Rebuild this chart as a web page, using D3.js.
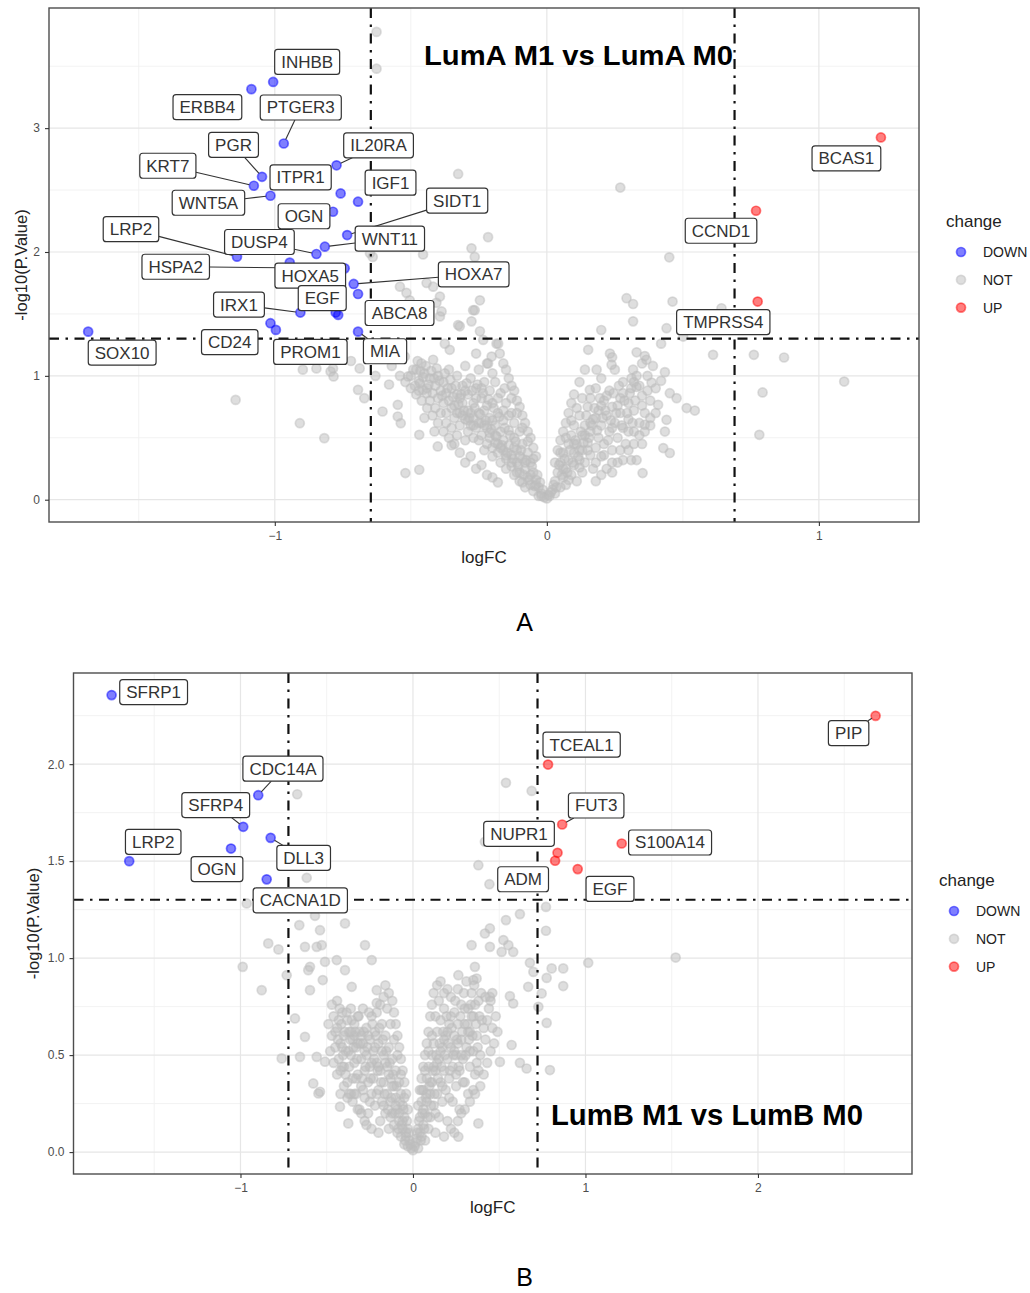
<!DOCTYPE html>
<html><head><meta charset="utf-8">
<script src="https://cdn.jsdelivr.net/npm/d3@7"></script>
<style>body{margin:0;background:#fff}svg{display:block}text{font-family:"Liberation Sans",Arial,sans-serif}</style>
</head><body>
<svg id="c" width="1030" height="1293"></svg>
<script>
// ================= DATA: Panel A (LumA M1 vs LumA M0) =================
const downGenesA = ["INHBB","ERBB4","PTGER3","PGR","KRT7","ITPR1","WNT5A","IL20RA","IGF1","OGN","SIDT1","LRP2","DUSP4","WNT11","HSPA2","HOXA5","HOXA7","EGF","IRX1","ABCA8","CD24","PROM1","MIA","SOX10",null];
const downLfcA  = [-1.006,-1.086,-0.967,-1.047,-1.077,-0.758,-1.016,-0.773,-0.694,-0.786,-0.734,-1.139,-0.847,-0.816,-0.743,-0.945,-0.710,-0.776,-0.906,-0.694,-1.016,-0.996,-0.694,-1.686,-0.767];
const downLogPA = [3.373,3.315,2.876,2.607,2.535,2.473,2.454,2.700,2.406,2.325,2.137,1.962,1.984,2.043,1.868,1.914,1.742,1.511,1.511,1.661,1.425,1.371,1.357,1.357,1.492];
const upGenesA = ["BCAS1","CCND1","TMPRSS4"];
const upLfcA   = [1.228,0.769,0.775];
const upLogPA  = [2.925,2.333,1.600];
const notA = [
[0,0.01],[-0.01,0.02],[0.005,0.04],[-0.02,0.05],[-0.03,0.03],[-0.03,0.1],[-0.04,0.16],[-0.05,0.07],[-0.05,0.22],[-0.06,0.12],[-0.06,0.3],[-0.07,0.18],[-0.07,0.38],[-0.08,0.1],[-0.08,0.25],[-0.09,0.33],[-0.09,0.45],[-0.10,0.15],[-0.10,0.22],[-0.10,0.55],[-0.11,0.3],[-0.11,0.4],[-0.12,0.2],[-0.12,0.5],[-0.12,0.62],[-0.13,0.27],[-0.13,0.36],[-0.13,0.7],[-0.14,0.44],[-0.14,0.56],[-0.15,0.25],[-0.15,0.33],[-0.15,0.78],[-0.16,0.4],[-0.16,0.48],[-0.16,0.64],[-0.17,0.3],[-0.17,0.55],[-0.17,0.86],[-0.18,0.38],[-0.18,0.45],[-0.18,0.7],[-0.19,0.52],[-0.19,0.6],[-0.19,0.95],[-0.2,0.35],[-0.2,0.42],[-0.2,0.78],[-0.2,1.02],[-0.21,0.5],[-0.21,0.66],[-0.21,0.88],[-0.22,0.45],[-0.22,0.58],[-0.22,1.1],[-0.23,0.4],[-0.23,0.72],[-0.23,0.95],[-0.24,0.52],[-0.24,0.62],[-0.24,0.82],[-0.25,0.48],[-0.25,1.05],[-0.25,0.7],[-0.26,0.58],[-0.26,0.9],[-0.26,1.18],[-0.27,0.5],[-0.27,0.66],[-0.27,0.78],[-0.28,0.6],[-0.28,0.98],[-0.29,0.55],[-0.29,0.72],[-0.29,0.85],[-0.3,0.65],[-0.3,1.08],[-0.3,0.48],[-0.31,0.78],[-0.31,0.92],[-0.32,0.6],[-0.32,0.7],[-0.33,0.85],[-0.33,1.0],[-0.34,0.66],[-0.34,0.76],[-0.35,0.9],[-0.35,0.58],[-0.36,0.8],[-0.36,1.05],[-0.37,0.7],[-0.37,0.86],[-0.38,0.95],[-0.38,0.78],[-0.39,0.88],[-0.4,0.82],[-0.4,1.0],[-0.41,0.92],[-0.42,0.86],[-0.43,0.98],[-0.44,0.9],[-0.45,1.02],[-0.47,0.96],[-0.48,1.05],[-0.5,1.0],
[-0.015,0.08],[-0.025,0.14],[-0.035,0.2],[-0.045,0.11],[-0.055,0.27],[-0.065,0.16],[-0.075,0.32],[-0.085,0.2],[-0.095,0.4],[-0.105,0.27],[-0.115,0.47],[-0.125,0.33],[-0.135,0.52],[-0.145,0.38],[-0.155,0.58],[-0.165,0.44],[-0.175,0.67],[-0.185,0.51],[-0.195,0.74],[-0.205,0.57],[-0.215,0.81],[-0.225,0.64],[-0.235,0.86],[-0.245,0.69],[-0.255,0.93],[-0.265,0.74],[-0.275,0.88],[-0.285,0.66],[-0.295,0.94],[-0.305,0.72],[-0.315,0.85],[-0.325,0.77],[-0.335,0.92],[-0.345,0.83],[-0.355,0.97],[-0.365,0.9],[-0.375,1.02],[-0.385,0.84],[-0.395,0.96],[-0.405,1.06],[-0.415,0.98],[-0.425,1.04],[-0.435,0.93],[-0.445,1.08],[-0.455,0.99],[-0.465,1.04],[-0.475,1.12],[-0.485,0.92],
[-0.14,0.68],[-0.18,0.82],[-0.22,0.76],[-0.26,0.82],[-0.3,0.88],[-0.2,0.64],[-0.16,0.72],[-0.24,0.9],[-0.28,0.7],[-0.32,0.82],[-0.12,0.42],[-0.1,0.35],[-0.08,0.3],[-0.06,0.2],[-0.04,0.12],[-0.02,0.03],[-0.09,0.14],[-0.11,0.22],[-0.13,0.3],[-0.15,0.36],[-0.17,0.42],[-0.19,0.46],[-0.21,0.54],[-0.23,0.6],[-0.25,0.62],[-0.27,0.6],[-0.29,0.64],[-0.31,0.68],[-0.33,0.7],[-0.35,0.74],
[-0.04,0.35],[-0.05,0.42],[-0.06,0.5],[-0.07,0.55],[-0.08,0.62],[-0.09,0.68],[-0.1,0.75],[-0.11,0.8],[-0.12,0.88],[-0.13,0.92],[-0.14,0.98],[-0.15,1.05],[-0.16,1.1],[-0.05,0.33],[-0.07,0.47],[-0.09,0.58],[-0.11,0.7],[-0.13,0.82],[-0.155,0.9],
[-0.3,0.3],[-0.32,0.38],[-0.34,0.45],[-0.36,0.5],[-0.38,0.55],[-0.4,0.62],[-0.42,0.68],[-0.44,0.74],[-0.46,0.8],[-0.48,0.85],[-0.5,0.9],[-0.26,0.25],[-0.28,0.35],[-0.33,0.52],[-0.37,0.62],[-0.41,0.74],[-0.45,0.66],[-0.22,0.2],[-0.24,0.28],[-0.35,0.44],[-0.39,0.7],[-0.43,0.8],[-0.47,0.88],[-0.52,0.95],[-0.2,0.18],[-0.18,0.14],
[-0.418,1.13],[-0.357,1.21],[-0.375,1.26],[-0.203,1.156],[-0.179,1.26],[-0.216,1.10],[-0.461,1.10],[-0.491,1.05],[-0.51,0.995],[-0.467,0.94],[-0.455,0.887],[-0.442,0.86],[-0.522,1.156],[-0.54,1.0],
[-0.413,0.551],[-0.401,0.43],[-0.469,0.524],[-0.52,0.215],[-0.469,0.242],[-0.537,0.618],[-0.548,0.672],[-0.548,0.766],[-0.604,0.712],[-0.671,0.82],[-0.694,0.887],[-0.784,0.995],[-0.75,1.13],[-0.84,1.156],[-0.795,1.035],[-0.908,0.618],[-0.818,0.497],[-1.144,0.806],
[-0.897,1.05],[-0.847,1.06],[-0.786,1.06],[-0.688,1.06],[-0.72,1.12],[-0.6,1.18],[-0.57,1.08],[-0.63,1.0],[-0.58,0.93],
[-0.626,3.777],[-0.626,3.48],[-0.326,2.63],[-0.216,2.12],[-0.277,2.03],[-0.265,1.96],[-0.455,1.98],[-0.65,1.99],[-0.64,1.96],[-0.442,1.75],[-0.418,1.72],[-0.393,1.64],[-0.406,1.59],[-0.387,1.52],[-0.54,1.72],[-0.516,1.67],[-0.504,1.61],[-0.265,1.53],[-0.277,1.44],[-0.32,1.40],[-0.246,1.36],[-0.326,1.41],[-0.234,1.29],[-0.185,1.26],[-0.173,1.18],[-0.271,1.53],[-0.246,1.61],[-0.393,1.48],
[0.01,0.03],[0.02,0.08],[0.03,0.05],[0.03,0.15],[0.04,0.22],[0.05,0.1],[0.05,0.3],[0.06,0.18],[0.06,0.38],[0.07,0.12],[0.07,0.25],[0.08,0.45],[0.08,0.32],[0.09,0.2],[0.09,0.52],[0.1,0.28],[0.1,0.38],[0.1,0.6],[0.11,0.15],[0.11,0.45],[0.12,0.32],[0.12,0.68],[0.13,0.22],[0.13,0.52],[0.13,0.4],[0.14,0.6],[0.14,0.3],[0.15,0.75],[0.15,0.46],[0.16,0.36],[0.16,0.55],[0.16,0.82],[0.17,0.25],[0.17,0.65],[0.18,0.42],[0.18,0.9],[0.19,0.5],[0.19,0.72],[0.2,0.35],[0.2,0.6],[0.2,0.98],[0.21,0.8],[0.21,0.45],[0.22,0.68],[0.22,0.25],[0.23,0.55],[0.23,0.88],[0.24,0.4],[0.24,0.75],[0.25,0.62],[0.25,1.05],[0.26,0.5],[0.26,0.3],[0.27,0.82],[0.27,0.7],[0.28,0.95],[0.28,0.58],[0.29,0.45],[0.3,0.78],[0.3,0.65],[0.31,0.9],[0.32,0.55],[0.32,0.72],[0.33,1.0],[0.34,0.62],[0.35,0.84],[0.36,0.7],
[0.015,0.06],[0.025,0.12],[0.035,0.1],[0.045,0.28],[0.055,0.2],[0.065,0.33],[0.075,0.22],[0.085,0.4],[0.095,0.3],[0.105,0.48],[0.115,0.35],[0.125,0.55],[0.135,0.46],[0.145,0.68],[0.155,0.5],[0.165,0.6],[0.175,0.74],[0.185,0.56],[0.195,0.82],[0.205,0.66],[0.215,0.72],[0.225,0.48],[0.235,0.64],[0.245,0.86],[0.255,0.7],[0.265,0.92],[0.275,0.6],[0.285,0.8],[0.295,0.7],[0.305,0.86],[0.315,0.62],[0.325,0.8],[0.34,0.92],[0.35,0.76],[0.37,0.88],[0.38,0.66],[0.06,0.25],[0.08,0.16],[0.1,0.45],[0.12,0.4],[0.14,0.52],[0.16,0.62],[0.18,0.66],[0.2,0.76],[0.22,0.84],[0.24,0.58],[0.26,0.76],[0.28,0.86],[0.3,0.55],[0.32,0.95],[0.12,0.26],[0.15,0.4],[0.18,0.3],[0.21,0.36],[0.24,0.3],
[0.03,0.3],[0.04,0.4],[0.05,0.48],[0.06,0.55],[0.07,0.62],[0.08,0.7],[0.09,0.78],[0.1,0.85],[0.12,0.95],[0.14,1.05],[0.05,0.38],[0.07,0.5],[0.09,0.64],[0.11,0.74],[0.13,0.82],
[0.2,0.2],[0.24,0.22],[0.28,0.32],[0.3,0.4],[0.32,0.45],[0.34,0.52],[0.36,0.55],[0.38,0.6],[0.4,0.7],[0.18,0.15],[0.27,0.4],[0.31,0.32],[0.35,0.45],[0.38,0.8],[0.4,0.9],[0.42,0.96],[0.37,1.0],[0.39,1.08],
[0.33,1.19],[0.36,1.16],[0.366,1.13],[0.434,1.03],[0.238,1.09],[0.317,1.05],[0.385,0.946],[0.452,0.86],[0.477,0.82],[0.514,0.74],[0.544,0.72],[0.409,0.766],[0.44,0.645],[0.434,0.55],[0.36,0.605],[0.428,0.417],[0.452,0.377],[0.33,0.32],[0.352,0.215],[0.311,0.98],[0.33,0.91],[0.152,1.21],[0.232,1.18],[0.183,1.05],[0.158,0.887],
[0.2,1.37],[0.24,1.15],[0.35,1.1],[0.42,1.26],[0.501,1.317],[0.611,1.17],[0.761,1.17],[0.872,1.148],[1.093,0.954],[0.793,0.866],[0.781,0.524],[0.44,1.385],[0.317,1.44],[0.293,1.627],[0.317,1.58],[0.462,1.60],[0.642,1.546],[0.45,1.957],[0.27,2.52]
];

// ================= DATA: Panel B (LumB M1 vs LumB M0) =================
const downGenesB = ["SFRP1","CDC14A","SFRP4","DLL3","OGN","LRP2","CACNA1D"];
const downLfcB   = [-1.747,-0.897,-0.984,-0.825,-1.055,-1.645,-0.848];
const downLogPB  = [2.356,1.840,1.677,1.620,1.565,1.500,1.406];
const upGenesB = ["PIP","TCEAL1","FUT3","S100A14","NUPR1","ADM","EGF"];
const upLfcB   = [2.682,0.783,0.865,1.210,0.838,0.824,0.955];
const upLogPB  = [2.249,1.998,1.689,1.591,1.543,1.502,1.459];
const notB = [
[0,0.01],[-0.01,0.02],[-0.02,0.06],[-0.03,0.03],[-0.03,0.12],[-0.04,0.08],[-0.05,0.18],[-0.05,0.04],[-0.06,0.12],[-0.06,0.24],[-0.07,0.08],[-0.07,0.3],[-0.08,0.16],[-0.08,0.36],[-0.09,0.22],[-0.09,0.1],[-0.1,0.28],[-0.1,0.42],[-0.11,0.14],[-0.11,0.34],[-0.12,0.2],[-0.12,0.48],[-0.13,0.26],[-0.13,0.38],[-0.14,0.12],[-0.14,0.54],[-0.15,0.3],[-0.15,0.44],[-0.16,0.2],[-0.16,0.6],[-0.17,0.36],[-0.17,0.5],[-0.18,0.26],[-0.18,0.66],[-0.19,0.42],[-0.19,0.16],[-0.2,0.56],[-0.2,0.32],[-0.21,0.72],[-0.21,0.46],[-0.22,0.24],[-0.22,0.62],[-0.23,0.38],[-0.23,0.52],[-0.24,0.3],[-0.24,0.7],[-0.25,0.44],[-0.25,0.58],[-0.26,0.2],[-0.26,0.36],[-0.27,0.64],[-0.27,0.5],[-0.28,0.28],[-0.28,0.42],[-0.29,0.56],[-0.29,0.74],[-0.3,0.34],[-0.3,0.48],[-0.31,0.62],[-0.31,0.22],[-0.32,0.4],[-0.32,0.7],[-0.33,0.54],[-0.33,0.3],[-0.34,0.46],[-0.34,0.66],[-0.35,0.38],[-0.35,0.58],[-0.36,0.5],[-0.36,0.74],[-0.37,0.44],[-0.37,0.62],[-0.38,0.36],[-0.38,0.68],[-0.39,0.52],[-0.4,0.6],[-0.4,0.44],[-0.41,0.72],[-0.42,0.56],[-0.43,0.48],[-0.44,0.64],[-0.45,0.54],[-0.46,0.7],[-0.44,0.78],[-0.42,0.42],[-0.47,0.6],
[-0.015,0.04],[-0.025,0.1],[-0.035,0.16],[-0.045,0.06],[-0.055,0.22],[-0.065,0.14],[-0.075,0.26],[-0.085,0.12],[-0.095,0.34],[-0.105,0.2],[-0.115,0.4],[-0.125,0.28],[-0.135,0.46],[-0.145,0.22],[-0.155,0.52],[-0.165,0.3],[-0.175,0.58],[-0.185,0.36],[-0.195,0.64],[-0.205,0.42],[-0.215,0.6],[-0.225,0.48],[-0.235,0.66],[-0.245,0.38],[-0.255,0.72],[-0.265,0.54],[-0.275,0.44],[-0.285,0.62],[-0.295,0.38],[-0.305,0.56],[-0.315,0.7],[-0.325,0.48],[-0.335,0.62],[-0.345,0.54],[-0.355,0.68],[-0.365,0.58],[-0.375,0.52],[-0.385,0.72],[-0.395,0.62],[-0.405,0.5],[-0.415,0.66],[-0.425,0.74],[-0.435,0.58],[-0.12,0.34],[-0.14,0.4],[-0.16,0.46],[-0.18,0.52],[-0.2,0.44],[-0.22,0.54],[-0.24,0.46],[-0.26,0.6],[-0.28,0.52],[-0.3,0.6],[-0.32,0.56],[-0.34,0.6],[-0.36,0.62],[-0.1,0.24],[-0.08,0.2],[-0.06,0.16],[-0.04,0.1],[-0.13,0.18],[-0.17,0.24],[-0.21,0.3],[-0.25,0.26],[-0.29,0.32],[-0.33,0.38],[-0.37,0.3],[-0.39,0.4],[-0.41,0.54],
[-0.03,0.22],[-0.04,0.3],[-0.05,0.36],[-0.06,0.42],[-0.07,0.48],[-0.08,0.54],[-0.09,0.6],[-0.1,0.66],[-0.11,0.72],[-0.12,0.78],[-0.14,0.82],[-0.16,0.86],[-0.05,0.28],[-0.07,0.4],[-0.09,0.5],[-0.11,0.58],[-0.13,0.66],[-0.15,0.74],[-0.17,0.8],[-0.19,0.76],
[-0.24,0.12],[-0.28,0.16],[-0.32,0.22],[-0.35,0.26],[-0.38,0.28],[-0.4,0.34],[-0.42,0.3],[-0.44,0.4],[-0.46,0.46],[-0.48,0.52],[-0.45,0.62],[-0.47,0.76],[-0.43,0.68],[-0.36,0.3],[-0.3,0.2],[-0.34,0.3],[-0.41,0.44],[-0.49,0.66],[-0.2,0.1],[-0.27,0.14],
[-0.671,1.845],[-0.616,1.414],[-0.964,1.282],[-0.659,1.17],[-0.539,1.144],[-0.568,1.218],[-0.394,1.179],[-0.839,1.076],[-0.78,1.045],[-0.626,1.058],[-0.558,1.058],[-0.529,1.067],[-0.278,1.067],[-0.239,0.99],[-0.987,0.955],[-0.877,0.835],[-0.732,0.912],[-0.597,0.955],[-0.607,0.938],[-0.51,0.981],[-0.442,0.99],[-0.394,0.938],[-0.523,0.887],[-0.597,0.835],[-0.355,0.852],[-0.21,0.835],[-0.21,0.768],[-0.684,0.689],[-0.626,0.594],[-0.761,0.483],[-0.578,0.354],[-0.539,0.311],[-0.558,0.491],[-0.51,0.466],[-0.423,0.234],[-0.375,0.148],[-0.655,0.491],[-0.548,0.302],
[0.01,0.03],[0.02,0.07],[0.03,0.12],[0.03,0.02],[0.04,0.18],[0.05,0.08],[0.05,0.26],[0.06,0.14],[0.06,0.32],[0.07,0.2],[0.07,0.06],[0.08,0.38],[0.08,0.26],[0.09,0.12],[0.09,0.44],[0.1,0.3],[0.1,0.18],[0.11,0.5],[0.11,0.36],[0.12,0.24],[0.12,0.56],[0.13,0.42],[0.13,0.1],[0.14,0.3],[0.14,0.62],[0.15,0.48],[0.15,0.18],[0.16,0.36],[0.16,0.68],[0.17,0.54],[0.17,0.26],[0.18,0.42],[0.18,0.74],[0.19,0.6],[0.19,0.32],[0.2,0.48],[0.2,0.16],[0.21,0.66],[0.21,0.38],[0.22,0.8],[0.22,0.54],[0.23,0.26],[0.23,0.44],[0.24,0.72],[0.24,0.6],[0.25,0.34],[0.25,0.5],[0.26,0.84],[0.26,0.66],[0.27,0.42],[0.27,0.22],[0.28,0.58],[0.28,0.76],[0.29,0.48],[0.3,0.66],[0.3,0.36],[0.31,0.88],[0.31,0.54],[0.32,0.74],[0.33,0.44],[0.33,0.62],[0.34,0.82],[0.35,0.52],[0.35,0.7],[0.36,0.4],[0.37,0.6],[0.38,0.78],[0.39,0.5],[0.4,0.68],[0.42,0.58],[0.44,0.74],[0.46,0.64],
[0.015,0.05],[0.025,0.1],[0.035,0.16],[0.045,0.06],[0.055,0.2],[0.065,0.12],[0.075,0.28],[0.085,0.18],[0.095,0.34],[0.105,0.24],[0.115,0.42],[0.125,0.3],[0.135,0.5],[0.145,0.38],[0.155,0.56],[0.165,0.44],[0.175,0.62],[0.185,0.5],[0.195,0.7],[0.205,0.56],[0.215,0.42],[0.225,0.64],[0.235,0.5],[0.245,0.78],[0.255,0.58],[0.265,0.44],[0.275,0.7],[0.285,0.62],[0.295,0.82],[0.305,0.5],[0.315,0.66],[0.325,0.58],[0.335,0.76],[0.345,0.6],[0.355,0.86],[0.365,0.66],[0.375,0.54],[0.385,0.7],[0.395,0.82],[0.41,0.64],[0.43,0.68],[0.45,0.78],[0.1,0.36],[0.12,0.44],[0.14,0.46],[0.16,0.52],[0.18,0.58],[0.2,0.62],[0.22,0.7],[0.24,0.52],[0.26,0.56],[0.28,0.5],[0.3,0.74],[0.32,0.62],[0.34,0.7],[0.36,0.76],[0.08,0.3],[0.06,0.22],[0.04,0.1],[0.13,0.2],[0.17,0.34],[0.21,0.28],[0.25,0.4],[0.29,0.36],[0.33,0.52],[0.37,0.46],
[0.03,0.24],[0.04,0.32],[0.05,0.38],[0.06,0.44],[0.07,0.5],[0.08,0.56],[0.09,0.62],[0.1,0.7],[0.11,0.76],[0.12,0.82],[0.14,0.86],[0.16,0.88],[0.05,0.32],[0.07,0.42],[0.09,0.52],[0.11,0.6],[0.13,0.7],[0.15,0.78],[0.18,0.82],[0.2,0.84],
[0.22,0.12],[0.26,0.16],[0.3,0.22],[0.33,0.26],[0.36,0.3],[0.39,0.34],[0.41,0.4],[0.43,0.46],[0.45,0.52],[0.47,0.56],[0.48,0.7],[0.46,0.82],[0.42,0.8],[0.35,0.32],[0.28,0.2],[0.32,0.3],[0.38,0.42],[0.49,0.62],[0.18,0.08],[0.24,0.1],
[0.539,1.904],[0.688,1.862],[0.417,1.60],[0.379,1.479],[0.443,1.381],[0.771,1.264],[0.62,1.227],[0.539,1.196],[0.446,1.153],[0.417,1.127],[0.771,1.141],[0.34,1.067],[0.446,1.058],[0.524,1.093],[0.553,1.067],[0.581,1.032],[0.514,1.032],[1.016,0.976],[1.523,1.003],[0.678,0.976],[0.698,0.929],[0.804,0.947],[0.871,0.947],[0.775,0.898],[0.871,0.856],[0.668,0.852],[0.359,0.955],[0.263,0.912],[0.369,0.895],[0.35,0.887],[0.446,0.80],[0.562,0.804],[0.581,0.766],[0.746,0.818],[0.727,0.749],[0.775,0.666],[0.572,0.552],[0.62,0.46],[0.659,0.431],[0.794,0.423],[0.379,0.148],[0.263,0.079],[0.504,0.465]
];

// tick values
const xTicksA = [-1,0,1], yTicksA = [0,1,2,3];
const xTicksB = [-1,0,1,2], yTicksB = [0,0.5,1,1.5,2];
const legendItems = ["DOWN","NOT","UP"];

// ================= LAYOUT (label box offsets in px from point, segment flag) =================
const labelLayoutA = {INHBB:[34,-20,0],ERBB4:[-44,18,0],PTGER3:[17,-36,1],PGR:[-28.5,-32,1],KRT7:[-86,-20,1],ITPR1:[-40,-16,0],WNT5A:[-62,7,1],IL20RA:[42,-20,1],IGF1:[32.5,-19,0],OGN:[-29,4.5,0],SIDT1:[110,-34.5,1],LRP2:[-106,-27.5,1],DUSP4:[-57,-12,1],WNT11:[65,-8,1],HSPA2:[-169,-1.6,1],HOXA5:[20.5,13,0],HOXA7:[120,-9.5,1],EGF:[-13.5,-14.4,0],IRX1:[-61.4,-8,1],ABCA8:[41.5,19,0],CD24:[-40.7,19,0],PROM1:[34.5,22,0],MIA:[27,19.6,1],SOX10:[34,21,0],BCAS1:[-34.5,21,0],CCND1:[-35,20,0],TMPRSS4:[-34.4,20.5,0]};
const labelLayoutB = {SFRP1:[42,-3,0],CDC14A:[24.7,-26.5,1],SFRP4:[-27.5,-21.7,1],LRP2:[24,-19.3,0],OGN:[-14,20.5,0],DLL3:[33,20,1],CACNA1D:[33.6,21,0],PIP:[-27,17.3,1],TCEAL1:[33.6,-20,0],FUT3:[34,-19,1],NUPR1:[-38.5,-19,0],S100A14:[48.4,-1,0],ADM:[-32,18.5,0],EGF:[32.3,19.8,0]};

const COLORS = {DOWN:"#0000ff", NOT:"#bebebe", UP:"#ff0000"};
const svg = d3.select("#c");

function styleDot(sel, c){
  sel.attr("r",4.5).attr("fill",c).attr("fill-opacity",0.5)
     .attr("stroke",c).attr("stroke-opacity",0.5).attr("stroke-width",1.7);
}

function panel(o){
  const g = svg.append("g");
  const x = d3.scaleLinear().domain(o.xDomain).range([o.left,o.right]);
  const y = d3.scaleLinear().domain(o.yDomain).range([o.bottom,o.top]);
  // grid
  const gg = g.append("g");
  o.xMinor.forEach(v=>gg.append("line").attr("x1",x(v)).attr("x2",x(v)).attr("y1",o.top).attr("y2",o.bottom).attr("stroke","#f0f0f0").attr("stroke-width",0.9));
  o.yMinor.forEach(v=>gg.append("line").attr("y1",y(v)).attr("y2",y(v)).attr("x1",o.left).attr("x2",o.right).attr("stroke","#f0f0f0").attr("stroke-width",0.9));
  o.xTicks.forEach(v=>gg.append("line").attr("x1",x(v)).attr("x2",x(v)).attr("y1",o.top).attr("y2",o.bottom).attr("stroke","#e6e6e6").attr("stroke-width",1.2));
  o.yTicks.forEach(v=>gg.append("line").attr("y1",y(v)).attr("y2",y(v)).attr("x1",o.left).attr("x2",o.right).attr("stroke","#e6e6e6").attr("stroke-width",1.2));
  // points
  g.append("g").selectAll("circle").data(o.not).join("circle")
    .attr("cx",d=>x(d[0])).attr("cy",d=>y(d[1])).call(styleDot,COLORS.NOT);
  const down = o.downLfc.map((v,i)=>({g:o.downGenes[i],x:v,y:o.downLogP[i]}));
  const up = o.upLfc.map((v,i)=>({g:o.upGenes[i],x:v,y:o.upLogP[i]}));
  g.append("g").selectAll("circle").data(down).join("circle")
    .attr("cx",d=>x(d.x)).attr("cy",d=>y(d.y)).call(styleDot,COLORS.DOWN);
  g.append("g").selectAll("circle").data(up).join("circle")
    .attr("cx",d=>x(d.x)).attr("cy",d=>y(d.y)).call(styleDot,COLORS.UP);
  // threshold lines
  const dash = "10,6.5,2.5,6.5";
  g.append("line").attr("x1",o.left).attr("x2",o.right).attr("y1",y(o.pCut)).attr("y2",y(o.pCut))
    .attr("stroke","#111").attr("stroke-width",2.2).attr("stroke-dasharray",dash);
  o.fcCut.forEach(v=>g.append("line").attr("x1",x(v)).attr("x2",x(v)).attr("y1",o.top).attr("y2",o.bottom)
    .attr("stroke","#111").attr("stroke-width",2.2).attr("stroke-dasharray",dash));
  // labels
  const lg = g.append("g");
  const labelled = down.concat(up).filter(d=>d.g && o.layout[d.g]);
  labelled.forEach(d=>{
    const L = o.layout[d.g];
    const px = x(d.x), py = y(d.y);
    const cx = px+L[0], cy = py+L[1];
    const t = lg.append("text").text(d.g).attr("font-size",17).attr("fill","#333")
      .attr("text-anchor","middle").attr("x",cx).attr("y",cy+6);
    const w = t.node().getComputedTextLength()+13, h = 25;
    if(L[2]){
      const dx = px-cx, dy = py-cy;
      const k = Math.min((w/2)/Math.max(Math.abs(dx),1e-6),(h/2)/Math.max(Math.abs(dy),1e-6));
      const sx = cx+dx*k, sy = cy+dy*k;
      const len = Math.hypot(px-sx,py-sy);
      const ex = px-(px-sx)/len*4.5, ey = py-(py-sy)/len*4.5;
      lg.insert("line","text").attr("x1",sx).attr("y1",sy).attr("x2",ex).attr("y2",ey)
        .attr("stroke","#333").attr("stroke-width",1.1);
    }
    lg.insert("rect","text").attr("x",cx-w/2).attr("y",cy-h/2).attr("width",w).attr("height",h)
      .attr("rx",3).attr("fill","#fff").attr("stroke","#333").attr("stroke-width",1.2);
    t.raise();
  });
  // border
  g.append("rect").attr("x",o.left).attr("y",o.top).attr("width",o.right-o.left).attr("height",o.bottom-o.top)
    .attr("fill","none").attr("stroke","#4d4d4d").attr("stroke-width",1.4);
  // axes
  const ax = g.append("g").attr("transform",`translate(0,${o.bottom})`)
    .call(d3.axisBottom(x).tickValues(o.xTicks).tickSize(4).tickPadding(5).tickFormat(o.fmtX));
  const ay = g.append("g").attr("transform",`translate(${o.left},0)`)
    .call(d3.axisLeft(y).tickValues(o.yTicks).tickSize(4).tickPadding(5).tickFormat(o.fmtY));
  [ax,ay].forEach(a=>{
    a.select(".domain").remove();
    a.selectAll(".tick line").attr("stroke","#333").attr("stroke-width",1.1);
    a.selectAll(".tick text").attr("fill","#4d4d4d").attr("font-size",12).attr("font-family",'"Liberation Sans",Arial,sans-serif');
  });
  // axis titles
  g.append("text").text("logFC").attr("x",(o.left+o.right)/2).attr("y",o.xTitleY)
    .attr("text-anchor","middle").attr("font-size",17).attr("fill","#222");
  g.append("text").text("-log10(P.Value)").attr("transform",`translate(${o.yTitleX},${(o.top+o.bottom)/2}) rotate(-90)`)
    .attr("text-anchor","middle").attr("font-size",16.5).attr("fill","#222");
  // title
  g.append("text").text(o.title).attr("x",o.titleX).attr("y",o.titleY).attr("font-size",o.titleSize)
    .attr("font-weight","bold").attr("fill","#000").attr("textLength",o.titleW).attr("lengthAdjust","spacingAndGlyphs");
  // legend
  const leg = g.append("g");
  leg.append("text").text("change").attr("x",o.legX).attr("y",o.legY).attr("font-size",17).attr("fill","#222");
  legendItems.forEach((k,i)=>{
    const yy = o.legY+25+i*27.8;
    leg.append("circle").attr("cx",o.legX+15).attr("cy",yy).call(styleDot,COLORS[k]);
    leg.append("text").text(k).attr("x",o.legX+37).attr("y",yy+5).attr("font-size",14).attr("fill","#222");
  });
  // panel letter
  svg.append("text").text(o.letter).attr("x",524.5).attr("y",o.letterY).attr("text-anchor","middle")
    .attr("font-size",25).attr("fill","#000");
}

panel({
  left:49, right:919, top:8, bottom:522,
  xDomain:[-1.83,1.368], yDomain:[-0.18,3.97],
  xTicks:xTicksA, yTicks:yTicksA, xMinor:[-1.5,-0.5,0.5], yMinor:[0.5,1.5,2.5,3.5],
  fmtX:d3.format("d"), fmtY:d3.format("d"),
  not:notA, downGenes:downGenesA, downLfc:downLfcA, downLogP:downLogPA,
  upGenes:upGenesA, upLfc:upLfcA, upLogP:upLogPA,
  pCut:1.301, fcCut:[-0.647,0.69], layout:labelLayoutA,
  xTitleY:563, yTitleX:27,
  title:"LumA M1 vs LumA M0", titleX:424, titleY:65, titleSize:28, titleW:309,
  legX:946, legY:227, letter:"A", letterY:631
});
panel({
  left:73.5, right:912, top:673, bottom:1174,
  xDomain:[-1.968,2.893], yDomain:[-0.113,2.47],
  xTicks:xTicksB, yTicks:yTicksB, xMinor:[-1.5,-0.5,0.5,1.5,2.5], yMinor:[0.25,0.75,1.25,1.75,2.25],
  fmtX:d3.format("d"), fmtY:d3.format(".1f"),
  not:notB, downGenes:downGenesB, downLfc:downLfcB, downLogP:downLogPB,
  upGenes:upGenesB, upLfc:upLfcB, upLogP:upLogPB,
  pCut:1.301, fcCut:[-0.722,0.722], layout:labelLayoutB,
  xTitleY:1213, yTitleX:39,
  title:"LumB M1 vs LumB M0", titleX:551, titleY:1125, titleSize:29, titleW:312,
  legX:939, legY:886, letter:"B", letterY:1286
});
</script>
</body></html>
